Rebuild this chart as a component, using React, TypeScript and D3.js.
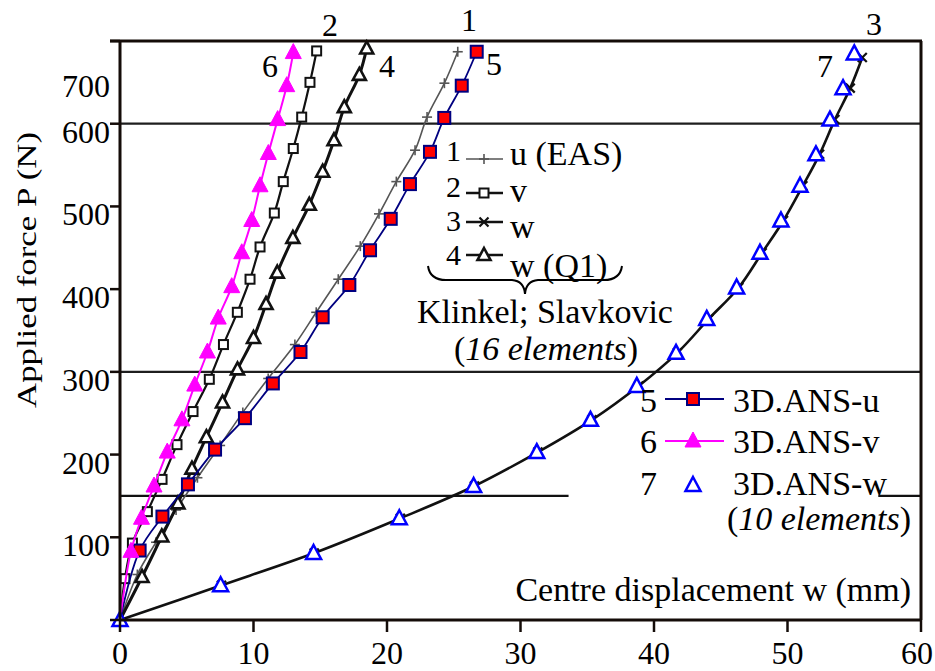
import React from 'react';
import * as d3 from 'd3';

// ---------- data ----------
const xTicks = [0, 10, 20, 30, 40, 50, 60];
const yTicks = [0, 100, 200, 300, 400, 500, 600, 700];
const yTickLabels = ['', '100', '200', '300', '400', '500', '600', ''];
const gridFull = [600, 300];
const gridPartial = 150;

// 1: u (EAS)
const s1P = [0, 55, 94, 133, 172, 211, 251, 292, 333, 372, 412, 452, 491, 530, 568, 608, 649, 687];
const s1X = [0, 1.3, 2.7, 4.2, 5.8, 7.5, 9.2, 11.1, 13.1, 14.7, 16.35, 18.0, 19.4, 20.7, 22.1, 23.0, 24.3, 25.3];
// 2: v
const s2P = [0, 50, 93, 131, 170, 212, 252, 291, 333, 372, 412, 451, 492, 530, 570, 608, 650, 688];
const s2X = [0, 0.37, 0.93, 2.05, 3.15, 4.27, 5.47, 6.69, 7.75, 8.79, 9.74, 10.49, 11.56, 12.23, 12.98, 13.61, 14.23, 14.73];
// 3: w
const s3P = [0, 42, 81, 123, 162, 203, 242, 283, 323, 364, 402, 444, 483, 525, 563, 605, 643, 680];
const s3X = [0, 7.6, 14.55, 21.0, 26.55, 31.3, 35.35, 38.85, 41.75, 44.1, 46.35, 48.1, 49.7, 51.15, 52.4, 53.55, 54.7, 55.6];
// 4: w (Q1)
const s4P = [0, 52, 101, 141, 183, 221, 263, 303, 341, 382, 420, 462, 502, 542, 580, 620, 659, 691];
const s4X = [0, 1.65, 3.13, 4.34, 5.39, 6.47, 7.68, 8.8, 10.0, 10.94, 11.78, 12.95, 14.18, 15.18, 16.03, 16.8, 17.93, 18.48];
// 5: 3D.ANS-u
const s5P = [0, 84, 125, 164, 206, 244, 286, 324, 366, 405, 447, 485, 527, 566, 607, 646, 687];
const s5X = [0, 1.47, 3.18, 5.09, 7.12, 9.36, 11.45, 13.52, 15.18, 17.18, 18.73, 20.28, 21.72, 23.22, 24.29, 25.6, 26.72];
// 6: 3D.ANS-v
const s6P = [0, 83, 123, 162, 203, 242, 284, 324, 365, 403, 444, 483, 525, 564, 605, 646, 686];
const s6X = [0, 0.82, 1.61, 2.55, 3.54, 4.64, 5.6, 6.55, 7.36, 8.37, 9.12, 9.87, 10.49, 11.11, 11.81, 12.49, 12.98];
// 7: 3D.ANS-w
const s7P = [0, 42, 81, 123, 162, 203, 242, 283, 323, 364, 402, 444, 483, 525, 563, 605, 643, 685];
const s7X = [0, 7.54, 14.5, 20.92, 26.49, 31.22, 35.24, 38.71, 41.65, 43.95, 46.19, 47.94, 49.51, 50.94, 52.13, 53.18, 54.16, 55.0];

const legendA = [
  { num: '1', label: 'u (EAS)', marker: 'plus' },
  { num: '2', label: 'v', marker: 'square' },
  { num: '3', label: 'w', marker: 'cross' },
  { num: '4', label: 'w (Q1)', marker: 'tri' },
];
const legendB = [
  { num: '5', label: '3D.ANS-u', marker: 'redsq' },
  { num: '6', label: '3D.ANS-v', marker: 'magtri' },
  { num: '7', label: '3D.ANS-w', marker: 'bluetri' },
];

// ---------- layout ----------
const W = 935;
const H = 671;
const FONT = 'Liberation Serif, DejaVu Serif, serif';
const AXIS = '#140c08';

const x = d3.scaleLinear().domain([0, 60]).range([120, 921]);
const y = d3.scaleLinear().domain([0, 700]).range([620, 41]);

const zip = (xs: number[], ps: number[]) => xs.map((v, i) => [v, ps[i]] as [number, number]);

const line = d3
  .line<[number, number]>()
  .x((d) => x(d[0]))
  .y((d) => y(d[1]))
  .curve(d3.curveCatmullRom.alpha(0.5));

function Marker({ kind, cx, cy }: { kind: string; cx: number; cy: number }) {
  switch (kind) {
    case 'plus':
      return (
        <g stroke="#555" strokeWidth={1.6}>
          <line x1={cx - 5} y1={cy} x2={cx + 5} y2={cy} />
          <line x1={cx} y1={cy - 5} x2={cx} y2={cy + 5} />
        </g>
      );
    case 'square':
      return <rect x={cx - 4.5} y={cy - 4.5} width={9} height={9} fill="#fff" stroke="#111" strokeWidth={2} />;
    case 'cross':
      return (
        <g stroke="#111" strokeWidth={2.2}>
          <line x1={cx - 4.5} y1={cy - 4.5} x2={cx + 4.5} y2={cy + 4.5} />
          <line x1={cx - 4.5} y1={cy + 4.5} x2={cx + 4.5} y2={cy - 4.5} />
        </g>
      );
    case 'tri':
      return (
        <path
          d={`M${cx},${cy - 7} L${cx + 6.5},${cy + 5} L${cx - 6.5},${cy + 5} Z`}
          fill="#fff"
          stroke="#111"
          strokeWidth={2.6}
        />
      );
    case 'redsq':
      return <rect x={cx - 6} y={cy - 6} width={12} height={12} fill="#ff0000" stroke="#000080" strokeWidth={2} />;
    case 'magtri':
      return <path d={`M${cx},${cy - 9} L${cx + 8},${cy + 6} L${cx - 8},${cy + 6} Z`} fill="#ff00ff" stroke="#ff00ff" strokeWidth={1} />;
    case 'bluetri':
      return (
        <path
          d={`M${cx},${cy - 8} L${cx + 7.5},${cy + 6} L${cx - 7.5},${cy + 6} Z`}
          fill="#fff"
          stroke="#0000ff"
          strokeWidth={2.5}
        />
      );
    default:
      return null;
  }
}

function Series({
  xs,
  ps,
  stroke,
  width,
  marker,
  showLine = true,
  skipFirst = true,
}: {
  xs: number[];
  ps: number[];
  stroke: string;
  width: number;
  marker: string;
  showLine?: boolean;
  skipFirst?: boolean;
}) {
  const pts = zip(xs, ps);
  return (
    <g>
      {showLine && <path d={line(pts) || ''} fill="none" stroke={stroke} strokeWidth={width} strokeLinejoin="round" />}
      {pts.map((p, i) =>
        skipFirst && i === 0 ? null : <Marker key={i} kind={marker} cx={x(p[0])} cy={y(p[1])} />
      )}
    </g>
  );
}

export default function App() {
  const left = x(0);
  const right = x(60);
  const top = y(700);
  const bottom = y(0);
  return (
    <svg
      width={W}
      height={H}
      viewBox={`0 0 ${W} ${H}`}
      style={{ position: 'absolute', left: 0, top: 0, background: '#fff', fontFamily: FONT }}
    >
      <rect x={0} y={0} width={W} height={H} fill="#fff" />

      {/* grid lines */}
      {gridFull.map((g) => (
        <line key={g} x1={left} x2={right} y1={y(g)} y2={y(g)} stroke="#1e1e1e" strokeWidth={2.2} />
      ))}
      <line x1={left} x2={x(33.6)} y1={y(gridPartial)} y2={y(gridPartial)} stroke="#111" strokeWidth={2.2} />
      <line x1={x(56.8)} x2={right} y1={y(gridPartial)} y2={y(gridPartial)} stroke="#111" strokeWidth={2.2} />

      {/* series */}
      <Series xs={s1X} ps={s1P} stroke="#555" width={1.6} marker="plus" />
      <Series xs={s2X} ps={s2P} stroke="#111" width={2.2} marker="square" />
      <Series xs={s3X} ps={s3P} stroke="#111" width={2.6} marker="cross" />
      <Series xs={s4X} ps={s4P} stroke="#111" width={3} marker="tri" />
      <Series xs={s5X} ps={s5P} stroke="#000080" width={1.8} marker="redsq" />
      <Series xs={s6X} ps={s6P} stroke="#ff00ff" width={2} marker="magtri" />
      <Series xs={s7X} ps={s7P} stroke="#0000ff" width={0} marker="bluetri" showLine={false} skipFirst={false} />

      {/* frame */}
      <line x1={left} x2={left} y1={top} y2={bottom + 1} stroke={AXIS} strokeWidth={3} />
      <line x1={left - 1} x2={right + 1} y1={bottom} y2={bottom} stroke={AXIS} strokeWidth={3} />
      <line x1={left - 10} x2={right + 1} y1={top} y2={top} stroke={AXIS} strokeWidth={3} />
      <line x1={right} x2={right} y1={top} y2={bottom} stroke={AXIS} strokeWidth={3} />

      {/* y ticks */}
      {yTicks.map((t, i) => (
        <g key={t}>
          <line x1={left - 10} x2={left} y1={y(t)} y2={y(t)} stroke={AXIS} strokeWidth={2.5} />
          {yTickLabels[i] && (
            <text x={left - 10} y={y(t) + 19} fontSize={32} textAnchor="end" fill="#000">
              {yTickLabels[i]}
            </text>
          )}
        </g>
      ))}
      {/* the "700" label sits below its tick in the original */}
      <text x={left - 10} y={y(700) + 56} fontSize={32} textAnchor="end" fill="#000">
        700
      </text>

      {/* x ticks */}
      {xTicks.map((t) => (
        <g key={t}>
          <line x1={x(t)} x2={x(t)} y1={bottom} y2={bottom + 12} stroke={AXIS} strokeWidth={2.5} />
          <text x={Math.min(x(t), W - 18)} y={bottom + 44} fontSize={32} textAnchor="middle" fill="#000">
            {t}
          </text>
        </g>
      ))}

      {/* axis titles */}
      <text
        transform="translate(36,270) rotate(-90)"
        fontSize={27}
        textAnchor="middle"
        textLength={276}
        lengthAdjust="spacingAndGlyphs"
        fill="#000"
      >
        Applied force P (N)
      </text>
      <text x={911} y={601} fontSize={34} textAnchor="end" fill="#000">
        Centre displacement w (mm)
      </text>

      {/* curve number labels */}
      <g fontSize={32} fill="#000">
        <text x={322} y={36}>2</text>
        <text x={461} y={31}>1</text>
        <text x={866} y={35}>3</text>
        <text x={262} y={77}>6</text>
        <text x={379} y={77}>4</text>
        <text x={486} y={75}>5</text>
        <text x={817} y={77}>7</text>
      </g>

      {/* legend A (Klinkel; Slavkovic) */}
      {legendA.map((l, i) => {
        const lineY = [159, 193, 222, 255][i];
        const numY = [161, 197, 231, 265][i];
        const txtY = [165, 202, 238, 277][i];
        return (
          <g key={l.num}>
            <text x={461} y={numY} fontSize={30} textAnchor="end" fill="#000">
              {l.num}
            </text>
            <line x1={466} x2={503} y1={lineY} y2={lineY} stroke={i === 0 ? '#555' : '#111'} strokeWidth={i === 0 ? 1.6 : 2.4} />
            <Marker kind={l.marker} cx={484} cy={lineY} />
            <text x={510} y={txtY} fontSize={34} fill="#000">
              {l.label}
            </text>
          </g>
        );
      })}
      <path
        d="M428,266 Q430,280 446,280 L512,280 Q524,281 525,294 Q526,281 538,280 L604,280 Q620,280 622,266"
        fill="none"
        stroke="#000"
        strokeWidth={2}
      />
      <text x={545} y={323} fontSize={34} textAnchor="middle" fill="#000">
        Klinkel; Slavkovic
      </text>
      <text x={546} y={360} fontSize={34} textAnchor="middle" fill="#000">
        (<tspan fontStyle="italic">16 elements</tspan>)
      </text>

      {/* legend B (3D.ANS) */}
      {legendB.map((l, i) => {
        const rowY = [412, 453, 495][i];
        const midY = [399, 441, 485][i];
        return (
          <g key={l.num}>
            <text x={657} y={rowY} fontSize={34} textAnchor="end" fill="#000">
              {l.num}
            </text>
            {i < 2 && (
              <line x1={665} x2={724} y1={midY} y2={midY} stroke={i === 0 ? '#000080' : '#ff00ff'} strokeWidth={2} />
            )}
            <Marker kind={l.marker} cx={693} cy={midY} />
            <text x={733} y={rowY} fontSize={34} fill="#000">
              {l.label}
            </text>
          </g>
        );
      })}
      <text x={911} y={530} fontSize={34} textAnchor="end" fill="#000">
        (<tspan fontStyle="italic">10 elements</tspan>)
      </text>
    </svg>
  );
}
